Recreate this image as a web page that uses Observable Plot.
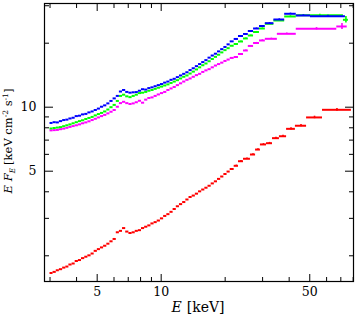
<!DOCTYPE html>
<html><head><meta charset="utf-8">
<script src="https://cdn.jsdelivr.net/npm/d3@7"></script>
<script src="https://cdn.jsdelivr.net/npm/@observablehq/plot@0.6"></script>
<style>html,body{margin:0;padding:0;background:#fff}#chart svg{display:block}</style>
</head><body><div id="chart"></div>
<script>
// Shared energy bin edges (keV) for the densely binned part of the spectra
const denseEdges = [3.00, 3.10, 3.21, 3.32, 3.44, 3.56, 3.68, 3.81, 3.94, 4.08, 4.22, 4.37, 4.52, 4.68, 4.84, 5.01, 5.18, 5.36, 5.55, 5.74, 5.94, 6.15, 6.36, 6.58, 6.81, 7.05, 7.30, 7.55, 7.81, 8.08, 8.36, 8.65, 8.95, 9.26, 9.58, 9.92, 10.27, 10.63, 11.00, 11.38, 11.78, 12.19, 12.62, 13.06, 13.52, 13.99, 14.48, 14.99, 15.51, 16.05, 16.61, 17.19, 17.79, 18.41, 19.05, 19.72, 20.41, 21.12, 22.05];

// E F_E values in the dense bins
const blueDense = [8.43, 8.50, 8.48, 8.60, 8.70, 8.74, 8.85, 8.92, 9.08, 9.12, 9.25, 9.30, 9.45, 9.55, 9.70, 9.85, 10.05, 10.20, 10.42, 10.70, 11.00, 11.30, 11.85, 12.05, 11.80, 11.70, 11.75, 11.78, 11.95, 12.15, 12.10, 12.30, 12.40, 12.55, 12.70, 12.85, 13.05, 13.20, 13.45, 13.60, 13.85, 14.10, 14.35, 14.60, 14.95, 15.25, 15.60, 15.95, 16.30, 16.65, 17.10, 17.50, 17.85, 18.30, 18.75, 19.20, 19.75, 20.40];
const greenDense = [7.94, 7.98, 8.02, 8.06, 8.14, 8.22, 8.30, 8.40, 8.50, 8.60, 8.68, 8.80, 8.90, 9.00, 9.15, 9.28, 9.40, 9.55, 9.75, 10.00, 10.25, 10.70, 11.30, 11.45, 11.25, 11.15, 11.30, 11.45, 11.65, 11.70, 11.80, 11.95, 12.05, 12.20, 12.35, 12.50, 12.65, 12.80, 13.00, 13.20, 13.40, 13.65, 13.90, 14.10, 14.40, 14.70, 15.05, 15.40, 15.75, 16.05, 16.45, 16.85, 17.25, 17.65, 18.10, 18.55, 18.95, 19.45];
const magentaDense = [7.78, 7.80, 7.82, 7.88, 7.93, 8.00, 8.08, 8.15, 8.22, 8.30, 8.40, 8.48, 8.58, 8.70, 8.82, 8.95, 9.08, 9.20, 9.35, 9.52, 9.70, 10.05, 10.45, 10.60, 10.45, 10.35, 10.42, 10.55, 10.72, 10.50, 10.85, 11.05, 11.12, 11.30, 11.48, 11.65, 11.80, 12.05, 12.25, 12.45, 12.70, 12.95, 13.20, 13.45, 13.65, 13.90, 14.15, 14.35, 14.65, 14.90, 15.10, 15.40, 15.70, 15.95, 16.20, 16.50, 16.75, 17.05];
const redDense = [1.66, 1.68, 1.71, 1.73, 1.76, 1.78, 1.82, 1.84, 1.89, 1.91, 1.95, 1.98, 2.01, 2.05, 2.11, 2.15, 2.19, 2.23, 2.28, 2.34, 2.40, 2.58, 2.62, 2.70, 2.60, 2.56, 2.58, 2.62, 2.64, 2.70, 2.74, 2.78, 2.84, 2.88, 2.93, 3.00, 3.08, 3.14, 3.22, 3.32, 3.42, 3.50, 3.58, 3.68, 3.78, 3.84, 3.92, 4.02, 4.10, 4.18, 4.27, 4.38, 4.48, 4.60, 4.72, 4.85, 4.98, 5.12];

// Wider high-energy bins, per spectrum
const blueTailEdges = [22.05, 23.1, 24.4, 25.7, 27.2, 29.0, 30.9, 33.9, 38.1, 43.2, 50.4, 73.6];
const blueTailFlux = [20.94, 21.62, 22.10, 22.82, 23.45, 24.09, 24.84, 25.85, 27.5, 27.0, 26.8];
const blueTailErr = [0.1, 0.1, 0.12, 0.12, 0.13, 0.14, 0.15, 0.18, 0.2, 0.22, 0.3];

const greenTailEdges = [22.05, 23.1, 24.4, 25.7, 27.2, 29.0, 30.9, 33.9, 38.1, 43.2, 72.0, 76.0];
const greenTailFlux = [19.83, 20.37, 21.05, 21.74, 22.58, 23.45, 24.67, 25.57, 26.71, 27.09, 25.77];
const greenTailErr = [0.1, 0.1, 0.12, 0.12, 0.13, 0.14, 0.15, 0.18, 0.2, 0.3, 0.9];

const magentaTailEdges = [22.05, 23.1, 24.4, 25.7, 27.2, 29.0, 30.9, 35.2, 43.2, 67.0, 75.0];
const magentaTailFlux = [17.22, 17.79, 18.48, 19.41, 20.04, 20.60, 20.97, 22.14, 23.38, 23.97];
const magentaTailErr = [0.1, 0.1, 0.12, 0.12, 0.13, 0.14, 0.15, 0.18, 0.3, 0.75];

const redTailEdges = [22.05, 23.1, 24.4, 26.3, 27.8, 29.3, 31.3, 33.4, 36.0, 38.9, 42.8, 48.3, 57.4, 78.5];
const redTailFlux = [5.30, 5.57, 5.72, 5.99, 6.32, 6.68, 6.77, 7.15, 7.30, 7.91, 8.18, 8.95, 9.72];
const redTailErr = [0.04, 0.04, 0.05, 0.05, 0.05, 0.06, 0.06, 0.07, 0.08, 0.09, 0.1, 0.12, 0.15];

const xTickLabels = [5, 10, 50];
const xMinorTicks = [3, 4, 6, 7, 8, 9, 20, 30, 40, 60, 70, 80];
const yTickLabels = [5, 10];
const yMinorTicks = [2, 3, 4, 6, 7, 8, 9, 20, 30];

function buildBins(dense, tailEdges, tailFlux, tailErr) {
  const out = [];
  dense.forEach((f, i) => out.push({lo: denseEdges[i], hi: denseEdges[i + 1], f, err: 0}));
  tailFlux.forEach((f, i) => out.push({lo: tailEdges[i], hi: tailEdges[i + 1], f, err: tailErr[i]}));
  return out;
}

const spectra = [
  {color: "#ff0000", bins: buildBins(redDense, redTailEdges, redTailFlux, redTailErr)},
  {color: "#ff00ff", bins: buildBins(magentaDense, magentaTailEdges, magentaTailFlux, magentaTailErr)},
  {color: "#00ff00", bins: buildBins(greenDense, greenTailEdges, greenTailFlux, greenTailErr)},
  {color: "#0000ff", bins: buildBins(blueDense, blueTailEdges, blueTailFlux, blueTailErr)}
];

const seriesMarks = spectra.flatMap(s => [
  Plot.ruleY(s.bins, {x1: "lo", x2: "hi", y: "f", stroke: s.color, strokeWidth: 2}),
  Plot.ruleX(s.bins.filter(d => d.err > 0), {x: d => Math.sqrt(d.lo * d.hi), y1: d => d.f - d.err, y2: d => d.f + d.err, stroke: s.color, strokeWidth: 1.6})
]);

const ff = "'DejaVu Serif', serif";
const blank = () => "";
const chart = Plot.plot({
  width: 357, height: 317,
  marginLeft: 44, marginRight: 4, marginTop: 3, marginBottom: 36,
  x: {type: "log", domain: [2.826, 80.3], label: null},
  y: {type: "log", domain: [1.514, 30.74], label: null},
  style: {fontFamily: ff, fontSize: "12.5px", background: "white", color: "black"},
  marks: [
    ...seriesMarks,
    Plot.frame({stroke: "black", strokeWidth: 1.2}),
    Plot.axisX(xTickLabels, {anchor: "bottom", tickSize: -7, tickFormat: blank, label: null}),
    Plot.axisX(xMinorTicks, {anchor: "bottom", tickSize: -4, tickFormat: blank, label: null}),
    Plot.axisX(xTickLabels, {anchor: "top", tickSize: -7, tickFormat: blank, label: null}),
    Plot.axisX(xMinorTicks, {anchor: "top", tickSize: -4, tickFormat: blank, label: null}),
    Plot.axisY(yTickLabels, {anchor: "left", tickSize: -9, tickFormat: blank, label: null}),
    Plot.axisY(yMinorTicks, {anchor: "left", tickSize: -5, tickFormat: blank, label: null}),
    Plot.axisY(yTickLabels, {anchor: "right", tickSize: -9, tickFormat: blank, label: null}),
    Plot.axisY(yMinorTicks, {anchor: "right", tickSize: -5, tickFormat: blank, label: null}),
    Plot.text(xTickLabels, {x: d => d, frameAnchor: "bottom", dy: 6, lineAnchor: "top", text: d => String(d), fontSize: 12.5, fill: "black"}),
    Plot.text(yTickLabels, {y: d => d, frameAnchor: "left", dx: -8, textAnchor: "end", text: d => String(d), fontSize: 12.5, fill: "black"})
  ]
});
document.getElementById("chart").appendChild(chart);

const svg = d3.select(chart);
// x-axis title
const xt = svg.append("text").attr("x", 198).attr("y", 312).attr("text-anchor", "middle")
  .attr("font-family", ff).attr("font-size", 14).attr("fill", "black");
xt.append("tspan").attr("font-style", "italic").text("E");
xt.append("tspan").attr("dx", 5).text("[keV]");
// y-axis title
const yt = svg.append("text").attr("transform", "translate(12,141) rotate(-90)").attr("text-anchor", "middle")
  .attr("font-family", ff).attr("font-size", 11.5).attr("fill", "black");
yt.append("tspan").attr("font-style", "italic").text("E F");
yt.append("tspan").attr("font-style", "italic").attr("font-size", 7.5).attr("dy", 3).text("E");
yt.append("tspan").attr("dy", -3).attr("dx", 3).text("[keV cm");
yt.append("tspan").attr("font-size", 7.5).attr("dy", -4.5).text("-2");
yt.append("tspan").attr("dy", 4.5).text(" s");
yt.append("tspan").attr("font-size", 7.5).attr("dy", -4.5).text("-1");
yt.append("tspan").attr("dy", 4.5).text("]");
</script>
</body></html>
